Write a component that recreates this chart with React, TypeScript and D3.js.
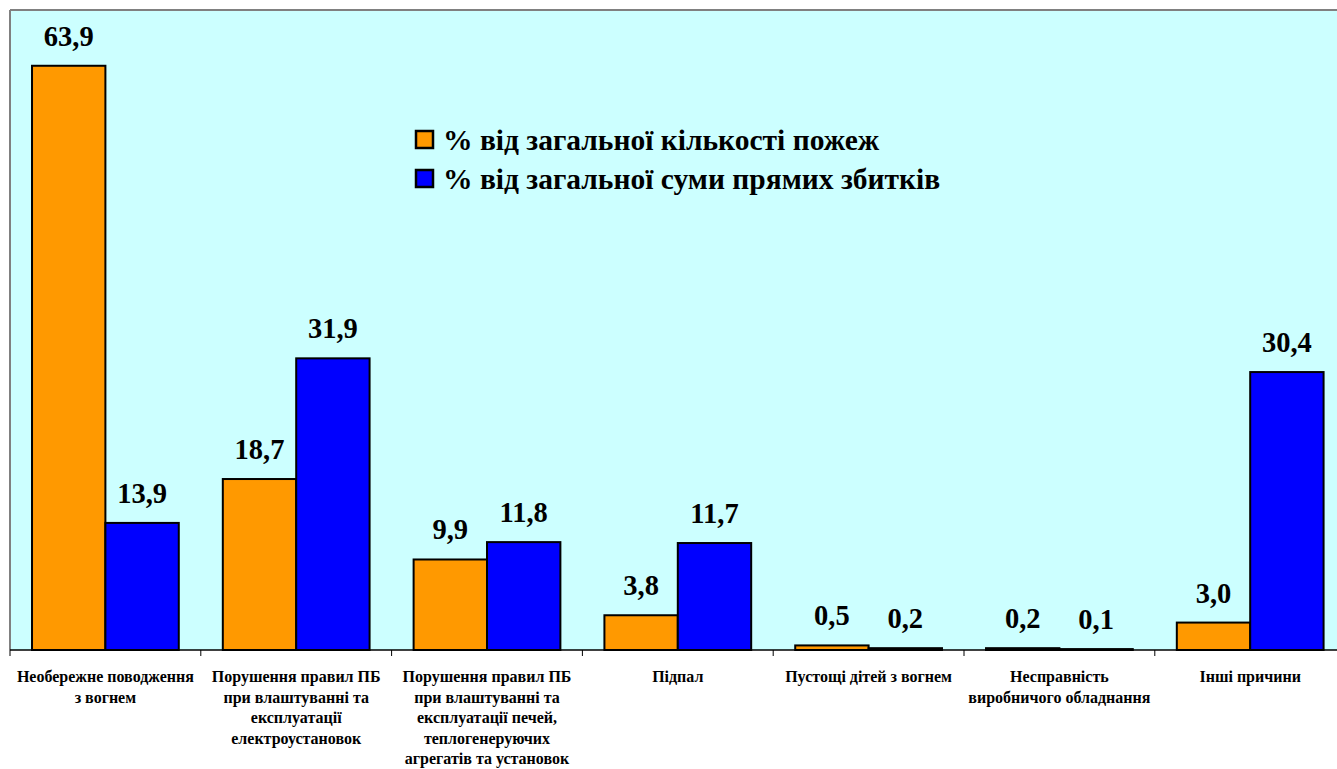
import React from "react";
import * as d3 from "d3";

const categories: string[] = [
  "Необережне поводження\nз вогнем",
  "Порушення правил ПБ\nпри влаштуванні та\nексплуатації\nелектроустановок",
  "Порушення правил ПБ\nпри влаштуванні та\nексплуатації печей,\nтеплогенеруючих\nагрегатів та установок",
  "Підпал",
  "Пустощі дітей з вогнем",
  "Несправність\nвиробничого обладнання",
  "Інші причини",
];

const seriesNames: string[] = [
  "% від загальної кількості пожеж",
  "% від загальної суми прямих збитків",
];

const firesShare: number[] = [63.9, 18.7, 9.9, 3.8, 0.5, 0.2, 3.0];
const damageShare: number[] = [13.9, 31.9, 11.8, 11.7, 0.2, 0.1, 30.4];

const seriesColors: string[] = ["#FF9900", "#0000FF"];

const W = 1337;
const H = 769;
const plotLeft = 10;
const plotTop = 10;
const plotBottom = 650;
const plotRight = 1345.6;
const FONT = '"Liberation Serif"';

const fmt = (v: number) => v.toFixed(1).replace(".", ",");

export default function App() {
  const x = d3.scaleBand<string>().domain(categories).range([plotLeft, plotRight]).padding(0);
  const inner = d3
    .scaleBand<number>()
    .domain([0, 1])
    .range([0, x.bandwidth()])
    .paddingInner(0)
    .paddingOuter(0.3);
  const y = d3.scaleLinear().domain([0, 70]).range([plotBottom, plotTop]);
  const series = [firesShare, damageShare];

  const tickXs = categories.map((c) => x(c) as number).concat([plotRight]);

  return (
    <svg width={W} height={H} style={{ position: "absolute", left: 0, top: 0, background: "#ffffff" }}>
      <rect x={plotLeft} y={plotTop} width={plotRight - plotLeft} height={plotBottom - plotTop} fill="#CCFFFF" />
      <line x1={plotLeft} y1={plotTop} x2={plotRight} y2={plotTop} stroke="#808080" strokeWidth={2} />
      <line x1={plotLeft} y1={plotTop} x2={plotLeft} y2={plotBottom} stroke="#808080" strokeWidth={2} />

      {categories.map((c, ci) =>
        series.map((vals, si) => {
          const bx = (x(c) as number) + (inner(si) as number);
          const bw = inner.bandwidth();
          const v = vals[ci];
          return (
            <g key={`${ci}-${si}`}>
              <rect
                x={bx}
                y={y(v)}
                width={bw}
                height={plotBottom - y(v)}
                fill={seriesColors[si]}
                stroke="#000"
                strokeWidth={2}
              />
              <text
                x={bx + bw / 2}
                y={y(v) - 20}
                textAnchor="middle"
                style={{ fontFamily: FONT, fontSize: 28.5, fontWeight: "bold" }}
                fill="#000"
              >
                {fmt(v)}
              </text>
            </g>
          );
        })
      )}

      <line x1={plotLeft} y1={plotBottom} x2={plotRight} y2={plotBottom} stroke="#000" strokeWidth={1.5} />
      {tickXs.map((tx, i) => (
        <line key={i} x1={tx} y1={plotBottom} x2={tx} y2={plotBottom + 6} stroke="#000" strokeWidth={1} />
      ))}

      {categories.map((c, ci) => {
        const cx = (x(c) as number) + x.bandwidth() / 2;
        const lines = c.split("\n");
        return (
          <text
            key={ci}
            textAnchor="middle"
            style={{ fontFamily: FONT, fontSize: 16, fontWeight: "bold" }}
            fill="#000"
          >
            {lines.map((ln, li) => (
              <tspan key={li} x={cx} y={682 + li * 20.6}>
                {ln}
              </tspan>
            ))}
          </text>
        );
      })}

      {seriesNames.map((name, si) => (
        <g key={si} transform={`translate(416, ${131 + si * 39})`}>
          <rect x={0} y={0} width={17} height={17} fill={seriesColors[si]} stroke="#000" strokeWidth={2.5} />
          <text x={27} y={19} style={{ fontFamily: FONT, fontSize: 29.5, fontWeight: "bold" }} fill="#000">
            {name}
          </text>
        </g>
      ))}
    </svg>
  );
}
